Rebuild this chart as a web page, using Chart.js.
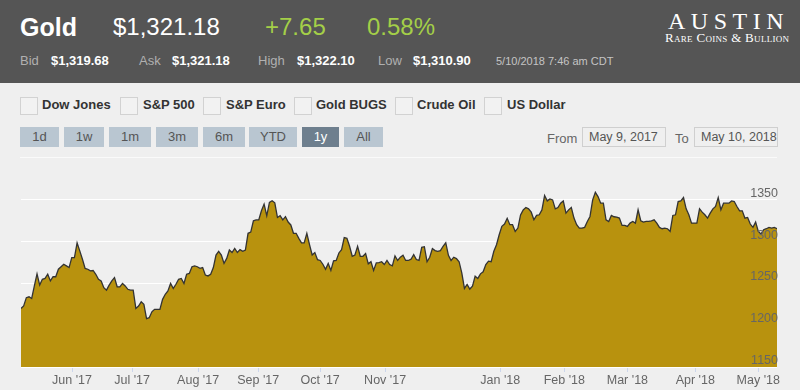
<!DOCTYPE html>
<html>
<head>
<meta charset="utf-8">
<script src="https://cdn.jsdelivr.net/npm/chart.js@4/dist/chart.umd.min.js"></script>
<style>
  body { margin: 0; width: 800px; height: 390px; background: #efefef; overflow: hidden;
         font-family: "Helvetica Neue", Helvetica, "Liberation Sans", Arial, sans-serif; position: relative; }
  .abs { position: absolute; white-space: nowrap; line-height: 1; }
  #top { position: absolute; left: 0; top: 0; width: 800px; height: 83px; background: #555555; }
  .big { font-size: 24px; color: #fff; }
  .green { color: #a4cf48; }
  .sm { font-size: 13px; color: #b0b0b0; }
  .smv { font-size: 13px; color: #fff; font-weight: bold; }
  .box { position: absolute; width: 16px; height: 16px; border: 1px solid #d2d2d2; background: #f2f2f2; }
  .chk { font-size: 13px; font-weight: bold; color: #333; }
  .btn { position: absolute; top: 127px; height: 20px; line-height: 20px; text-align: center;
         font-size: 13px; color: #555; background: #b9c6d1; }
  .btn.on { background: #6e7f8e; color: #fff; }
  .inp { position: absolute; top: 127px; height: 18px; line-height: 18px; border: 1px solid #cfcfcf;
         font-size: 12.5px; color: #555; padding-left: 6px; white-space: nowrap; overflow: hidden; }
  #sep { position: absolute; left: 20px; top: 157px; width: 757px; height: 1px; background: #fafafa; }
  #goldChart { position: absolute; left: 0; top: 160px; }
</style>
</head>
<body>
<div id="top">
  <span class="abs big" style="left:20px;top:15px;font-weight:bold;font-size:25px">Gold</span>
  <span class="abs big" style="left:113px;top:15px">$1,321.18</span>
  <span class="abs big green" style="left:265px;top:15px">+7.65</span>
  <span class="abs big green" style="left:367px;top:15px">0.58%</span>

  <span class="abs sm" style="left:20px;top:54px">Bid</span>
  <span class="abs smv" style="left:51px;top:54px">$1,319.68</span>
  <span class="abs sm" style="left:139px;top:54px">Ask</span>
  <span class="abs smv" style="left:172px;top:54px">$1,321.18</span>
  <span class="abs sm" style="left:258px;top:54px">High</span>
  <span class="abs smv" style="left:297px;top:54px">$1,322.10</span>
  <span class="abs sm" style="left:378px;top:54px">Low</span>
  <span class="abs smv" style="left:413px;top:54px">$1,310.90</span>
  <span class="abs" style="left:496px;top:56px;font-size:11px;color:#c4c4c4">5/10/2018 7:46 am CDT</span>

  <span class="abs" style="left:668px;top:9px;font-family:'Liberation Serif','DejaVu Serif',serif;font-size:24px;color:#fff;letter-spacing:5.5px">AUSTIN</span>
  <span class="abs" style="left:665px;top:31px;font-family:'Liberation Serif','DejaVu Serif',serif;font-size:13px;color:#fff;font-variant:small-caps;letter-spacing:0.3px">Rare Coins &amp; Bullion</span>
</div>

<div class="box" style="left:20px;top:97px"></div><span class="abs chk" style="left:42px;top:98px">Dow Jones</span>
<div class="box" style="left:120px;top:97px"></div><span class="abs chk" style="left:143px;top:98px">S&amp;P 500</span>
<div class="box" style="left:203px;top:97px"></div><span class="abs chk" style="left:226px;top:98px">S&amp;P Euro</span>
<div class="box" style="left:294px;top:97px"></div><span class="abs chk" style="left:316px;top:98px">Gold BUGS</span>
<div class="box" style="left:395px;top:97px"></div><span class="abs chk" style="left:417px;top:98px">Crude Oil</span>
<div class="box" style="left:484px;top:97px"></div><span class="abs chk" style="left:507px;top:98px">US Dollar</span>

<div class="btn" style="left:20px;width:39px">1d</div>
<div class="btn" style="left:64px;width:40px">1w</div>
<div class="btn" style="left:109px;width:42px">1m</div>
<div class="btn" style="left:156px;width:42px">3m</div>
<div class="btn" style="left:203px;width:42px">6m</div>
<div class="btn" style="left:249px;width:48px">YTD</div>
<div class="btn on" style="left:302px;width:37px">1y</div>
<div class="btn" style="left:344px;width:39px">All</div>

<span class="abs" style="left:547px;top:132px;font-size:13px;color:#666">From</span>
<div class="inp" style="left:582px;width:76px">May 9, 2017</div>
<span class="abs" style="left:675px;top:132px;font-size:13px;color:#666">To</span>
<div class="inp" style="left:694px;width:76px">May 10, 2018</div>
<div id="sep"></div>

<canvas id="goldChart" width="800" height="230"></canvas>

<script>
// daily close, May 9 2017 -> May 10 2018
const goldPrices = [
  1220, 1223, 1233, 1234, 1232, 1247, 1261.5, 1248, 1255, 1256, 1261, 1253, 1258, 1258, 1267, 1270, 1273, 1271, 1269, 1281,
  1281, 1298.5, 1289, 1279, 1268, 1267, 1265, 1265.5, 1261, 1255, 1253, 1245, 1242, 1248, 1253, 1257, 1246, 1246, 1250, 1247,
  1243, 1242, 1242, 1220, 1223, 1228, 1225, 1208, 1209, 1216, 1219, 1219, 1219, 1231, 1237, 1241, 1250, 1244,
  1249, 1255, 1256, 1250, 1261, 1262, 1270, 1271, 1270, 1268, 1269, 1260, 1259, 1261, 1269, 1284, 1288.5, 1284, 1274, 1280,
  1290, 1287, 1292, 1287, 1290.5, 1288.5, 1290, 1310, 1311.5, 1325, 1326, 1326, 1337, 1345, 1331, 1347, 1349, 1346.5, 1329, 1331,
  1326, 1330, 1323.5, 1320, 1310, 1310, 1304, 1298.5, 1298.5, 1310, 1296.5, 1284, 1287, 1278.5, 1277.5, 1273, 1267, 1274,
  1265.5, 1277, 1277.5, 1286.5, 1290.5, 1305, 1304, 1294.5, 1282.5, 1284, 1294.5, 1282.5, 1282.5, 1285.7, 1273.5, 1276, 1265.5, 1274.6, 1275, 1276,
  1272.6, 1277.5, 1272.6, 1271, 1283, 1277.5, 1281.4, 1283.7, 1277.5, 1277.5, 1279, 1284.5, 1278.6, 1277.5, 1293.3, 1294, 1276, 1281.4, 1291.7, 1289.3,
  1288.5, 1289.3, 1294.5, 1298.8, 1283.7, 1277.5, 1281.4, 1279.8, 1276, 1262.7, 1244, 1248.8, 1243.3, 1246.8, 1258.7, 1256, 1261.5, 1264,
  1272.6, 1276.6, 1276, 1288.5, 1296.4, 1308.3, 1318.3, 1321, 1328, 1320.3, 1320.3, 1312.3, 1316.3, 1332, 1338, 1340.9, 1339.3, 1335.3, 1326.2, 1331.4,
  1332.2, 1338, 1355.2, 1348.8, 1351.2, 1350, 1339.3, 1340.9, 1346, 1348.8, 1334.2, 1338.1, 1340.9, 1328.2, 1320.3, 1316.3, 1316.3, 1317.1, 1324.2, 1330.2,
  1350, 1359.1, 1354, 1346.1, 1346.1, 1326.2, 1324.2, 1331.4, 1329.8, 1329.4, 1328.2, 1319.5, 1319.5, 1318.3, 1322.2, 1324.2, 1322.2, 1338.1,
  1325, 1323.4, 1324.2, 1324.2, 1325, 1326.2, 1322.2, 1317.1, 1315.5, 1316.3, 1315.5, 1312.3, 1331.4, 1332.2, 1348, 1348.8, 1352.8, 1339.3, 1332.2, 1322.2,
  1322.2, 1322.2, 1339.3, 1335.3, 1332.2, 1328.2, 1334.2, 1339.3, 1342.1, 1352.8, 1338.1, 1346.1, 1346.1, 1346.1, 1348.8, 1348, 1342.1, 1336.9, 1336.9, 1328.2,
  1329, 1321.1, 1317.1, 1323.4, 1312.3, 1309.1, 1314.3, 1315.5, 1317.1, 1316.3, 1317.1, 1315.5
];

// month labels and where they fall (in trading-day index)
const monthLabels = ["Jun '17", "Jul '17", "Aug '17", "Sep '17", "Oct '17", "Nov '17", "Jan '18", "Feb '18", "Mar '18", "Apr '18", "May '18"];
const monthTickIdx = [19.1, 41.6, 66.3, 88.8, 112, 136.3, 179.4, 203.4, 227, 252.4, 276];
const priceTicks = [1150, 1200, 1250, 1300, 1350];
const priceMin = 1150;
const priceMax = 1375;

const tickFont = { family: "'Helvetica Neue', Helvetica, 'Liberation Sans', Arial, sans-serif", size: 12.5 };

new Chart(document.getElementById("goldChart"), {
    type: "line",
    data: {
        datasets: [{
            data: goldPrices.map((v, i) => ({ x: i, y: v })),
            borderColor: "#333333",
            borderWidth: 1.3,
            backgroundColor: "#b8920e",
            fill: "start",
            pointRadius: 0,
            tension: 0
        }]
    },
    options: {
        responsive: false,
        animation: false,
        layout: { padding: { left: 21, right: 23, top: 19, bottom: 0 } },
        scales: {
            x: {
                type: "linear",
                min: 0,
                max: goldPrices.length - 1,
                afterBuildTicks: (axis) => { axis.ticks = monthTickIdx.map(v => ({ value: v })); },
                afterFit: (axis) => { axis.height = 23; },
                border: { display: false },
                grid: { drawOnChartArea: false, drawTicks: true, tickLength: 5, color: "#ccd6eb" },
                ticks: {
                    autoSkip: false,
                    maxRotation: 0,
                    padding: 1,
                    color: "#666666",
                    font: tickFont,
                    callback: (value, index) => monthLabels[index]
                }
            },
            y: {
                position: "right",
                min: priceMin,
                max: priceMax,
                afterBuildTicks: (axis) => { axis.ticks = priceTicks.map(v => ({ value: v })); },
                afterFit: (axis) => { axis.width = 0; },
                border: { display: false },
                // grid under the area, labels over it
                grid: { color: "#ffffff", lineWidth: 1, drawTicks: false, z: -1 },
                ticks: {
                    z: 1,
                    mirror: true,
                    autoSkip: false,
                    padding: 1,
                    labelOffset: -6.5,
                    color: "#666666",
                    font: tickFont,
                    callback: (value) => String(value)
                }
            }
        },
        plugins: {
            legend: { display: false },
            tooltip: { enabled: false }
        }
    }
});
</script>
</body>
</html>
